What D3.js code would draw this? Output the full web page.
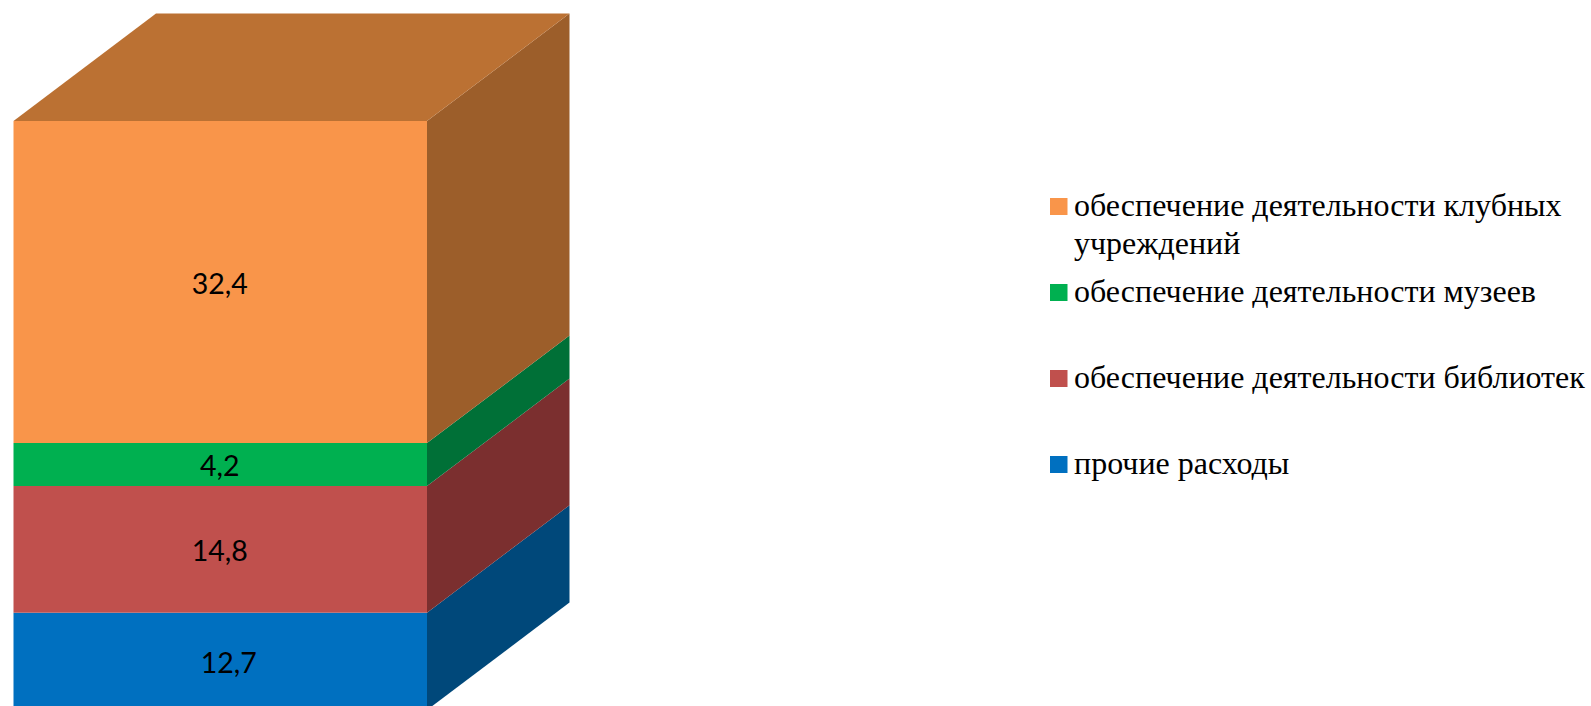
<!DOCTYPE html>
<html><head><meta charset="utf-8">
<script src="https://cdn.jsdelivr.net/npm/d3@7"></script>
<style>html,body{margin:0;padding:0;background:#fff;overflow:hidden}svg{display:block}</style>
</head><body><svg id="c" width="1591" height="706"></svg>
<script>
// bottom to top
const categories = ["прочие расходы","обеспечение деятельности библиотек","обеспечение деятельности музеев","обеспечение деятельности клубных учреждений"];
const values = [12.7,14.8,4.2,32.4];
const labels = ["12,7","14,8","4,2","32,4"];
const frontColors = ["#0070C0","#C0504D","#00B050","#F9954A"];
const sideColors = ["#00487A","#7B2F2F","#007037","#9C5E2A"];
const topColor = "#BB7133";
const legendLines = [["прочие расходы"],["обеспечение деятельности библиотек"],["обеспечение деятельности музеев"],["обеспечение деятельности клубных","учреждений"]];

const svg = d3.select("#c");
const W=1591,H=706;
const cum = d3.cumsum(values);
// The picture's segment heights are not strictly proportional to its labels: piecewise scale.
const y = d3.scaleLinear().domain([0,...cum]).range([710,612.7,486,443,121]);
const x = d3.scaleLinear().domain([0,1]).range([13.5,427]);
const dx=142.5, dy=-107.5;
const stack = values.map((v,i)=>({i,y0:i?cum[i-1]:0,y1:cum[i]}));
const clip = svg.append("defs").append("clipPath").attr("id","plot");
clip.append("rect").attr("width",W).attr("height",H);
const g = svg.append("g").attr("clip-path","url(#plot)");
const line = d3.line();
g.selectAll("path.side").data(stack).join("path").attr("class","side")
  .attr("d",d=>line([[x(1),y(d.y0)],[x(1)+dx,y(d.y0)+dy],[x(1)+dx,y(d.y1)+dy],[x(1),y(d.y1)]])+"Z")
  .attr("fill",d=>sideColors[d.i]);
g.selectAll("rect.front").data(stack).join("rect").attr("class","front")
  .attr("x",x(0)).attr("width",x(1)-x(0))
  .attr("y",d=>y(d.y1)).attr("height",d=>y(d.y0)-y(d.y1))
  .attr("fill",d=>frontColors[d.i]);
const tt=cum[cum.length-1];
g.append("path").attr("d",line([[x(0),y(tt)],[x(0)+dx,y(tt)+dy],[x(1)+dx,y(tt)+dy],[x(1),y(tt)]])+"Z").attr("fill",topColor);

const nudge=[9,0,0,0];
g.selectAll("text.val").data(stack).join("text").attr("class","val")
  .attr("x",d=>(x(0)+x(1))/2+nudge[d.i]-0.5)
  .attr("y",d=>(y(d.y0)+y(d.y1))/2+11.5)
  .attr("text-anchor","middle").attr("fill","#000")
  .style("font-family","Lato, 'Noto Sans', sans-serif").style("font-size","28.5px")
  .text(d=>labels[d.i]);

const legendY=d3.scalePoint().domain(d3.range(4)).range([474,216]);
const lg=svg.append("g");
categories.forEach((c,i)=>{
  const b=legendY(i);
  lg.append("rect").attr("x",1050).attr("y",b-18).attr("width",17.5).attr("height",17).attr("fill",frontColors[i]);
  const t=lg.append("text").attr("x",1074).attr("y",b).attr("fill","#000")
    .style("font-family","'Liberation Serif', serif").style("font-size","32px");
  legendLines[i].forEach((l,k)=>t.append("tspan").attr("x",1074).attr("y",b+k*38).text(l));
});
</script></body></html>
